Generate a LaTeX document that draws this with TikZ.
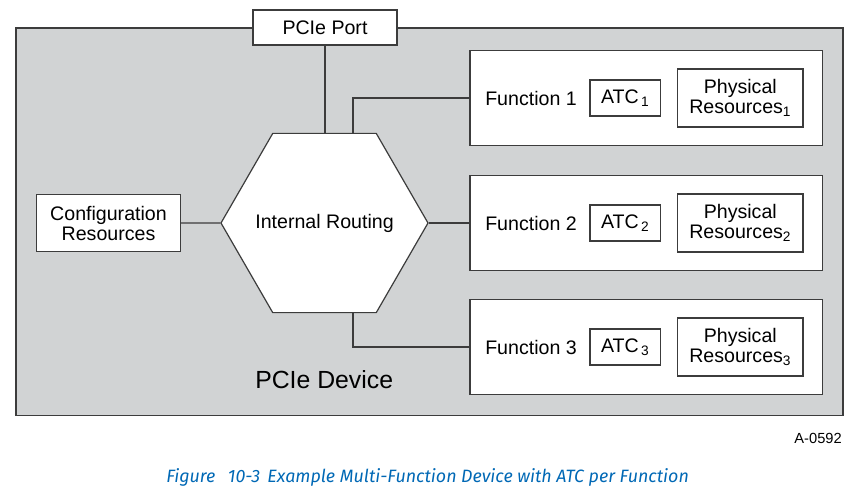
\documentclass[tikz,border=0pt]{standalone}
\usepackage{fontspec}
\setmainfont{Liberation Sans}
\newfontfamily\capfont{Fira Sans}
\usetikzlibrary{shapes.geometric}

\definecolor{devgray}{RGB}{209,211,212}
\definecolor{linegray}{RGB}{60,60,60}
\definecolor{capblue}{RGB}{0,104,181}

\tikzset{
  plainbox/.style={draw=linegray, fill=white, line width=0.9pt, inner sep=0pt, align=center},
  hexbox/.style={plainbox, regular polygon, regular polygon sides=6, minimum size=155.25pt},
  wire/.style={draw=linegray, line width=0.9pt},
  plaintext/.style={inner sep=0pt},
}

\begin{document}
\begin{tikzpicture}[x=0.75pt,y=0.75pt,yscale=-1,xscale=1,font=\fontsize{14.7}{15}\selectfont]
\useasboundingbox (0,0) rectangle (854,497);

%Shape: Device [id:device]
\draw [fill=devgray, draw=linegray, line width=1.2pt] (16,28) rectangle (843,415.5) ;

%Shape: Port
\node [plainbox, minimum width=108pt, minimum height=26.25pt] (port) at (325,27.5) {PCIe Port};

%Shape: Hexagon
\node [hexbox] (route) at (324.5,223) {\makebox[0pt]{Internal Routing}};

%Shape: Config
\node [plainbox, minimum width=107.7pt, minimum height=43.3pt] (config) at (108.5,223) {Configuration\\Resources};

%Shape: Function boxes
\node [plainbox, minimum width=264.5pt, minimum height=71.6pt] (fun1) at (646.3,98) {};
\node [plainbox, minimum width=264.5pt, minimum height=71.6pt] (fun2) at (646.3,223) {};
\node [plainbox, minimum width=264.5pt, minimum height=71.6pt] (fun3) at (646.3,347) {};

% Text Node
\node [plaintext, anchor=west] (funlbl1) at (485,98) {Function 1};
\node [plaintext, anchor=west] (funlbl2) at (485,223) {Function 2};
\node [plaintext, anchor=west] (funlbl3) at (485,347) {Function 3};

%Shape: ATC
\node [plainbox, minimum width=53pt, minimum height=27pt] (atc1) at (625.3,98) {ATC\hspace{0.12em}\textsubscript{1}};
\node [plainbox, minimum width=53pt, minimum height=27pt] (atc2) at (625.3,223) {ATC\hspace{0.12em}\textsubscript{2}};
\node [plainbox, minimum width=53pt, minimum height=27pt] (atc3) at (625.3,347) {ATC\hspace{0.12em}\textsubscript{3}};

%Shape: Physical
\node [plainbox, minimum width=94pt, minimum height=43.5pt] (phys1) at (740.3,98) {Physical\\Resources\textsubscript{1}};
\node [plainbox, minimum width=94pt, minimum height=43.5pt] (phys2) at (740.3,223) {Physical\\Resources\textsubscript{2}};
\node [plainbox, minimum width=94pt, minimum height=43.5pt] (phys3) at (740.3,347) {Physical\\Resources\textsubscript{3}};

%Straight Lines
\draw [wire] (port.south) -- (port.south |- route.north) ;
\draw [wire] (config.east) -- (route.west) ;
\draw [wire] ([xshift=21.4pt]route.north) |- (fun1.west) ;
\draw [wire] (route.east) -- (route.east -| fun2.west) ;
\draw [wire] ([xshift=21.4pt]route.south) |- (fun3.west) ;

% Text Node
\node [plaintext, anchor=west, font=\fontsize{18.6}{20}\selectfont] (devlbl) at (255,380) {PCIe Device};

% Text Node
\node [plaintext, anchor=east, font=\fontsize{11}{12}\selectfont] (figid) at (842,438) {A-0592};

% Text Node
\node [plaintext, anchor=west, text=capblue, font=\capfont\itshape\fontsize{13.4}{14}\selectfont] (caption) at (166,477) {Figure\hspace{0.7em}10-3\hspace{0.4em}Example Multi-Function Device with ATC per Function};

\end{tikzpicture}
\end{document}
